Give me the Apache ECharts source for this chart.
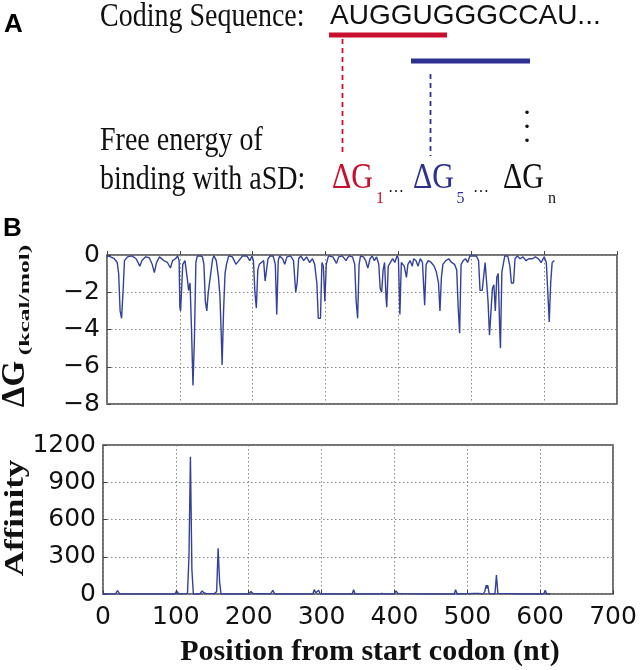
<!DOCTYPE html>
<html>
<head>
<meta charset="utf-8">
<script src="https://cdn.jsdelivr.net/npm/echarts@6/dist/echarts.min.js"></script>
<style>
  html, body { margin: 0; padding: 0; background: #fff; }
  #main { width: 641px; height: 670px; }
</style>
</head>
<body>
<div id="main"></div>
<script>
// free energy of binding with aSD (top)
var dgPos = [0, 5, 10, 14, 16, 18, 20, 22, 24, 28, 34, 40, 45, 48, 53, 58, 62, 65, 68, 72,
  78, 83, 87, 90, 94, 97, 99, 100, 101, 103, 104, 107, 110, 112, 114, 116, 118, 120, 122, 124,
  128, 131, 133, 135, 137, 139, 141, 143, 145, 147, 150, 153, 155, 157, 158, 160, 162, 164, 167, 172,
  177, 181, 186, 192, 196, 199, 201, 203, 205, 207, 209, 212, 215, 217, 219, 221, 224, 228, 231, 233,
  235, 237, 241, 244, 247, 252, 256, 259, 261, 263, 266, 270, 274, 278, 282, 285, 288, 290, 293, 295,
  297, 299, 301, 304, 310, 315, 318, 323, 328, 332, 337, 340, 342, 344, 346, 348, 352, 355, 358, 361,
  364, 367, 370, 373, 375, 377, 379, 381, 383, 384, 386, 389, 392, 395, 398, 400, 402, 404, 406, 408,
  411, 413, 416, 419, 421, 424, 427, 430, 433, 436, 438, 441, 445, 449, 452, 455, 457, 459, 461, 465,
  469, 473, 477, 480, 482, 484, 486, 489, 492, 495, 498, 502, 507, 510, 512, 515, 517, 519, 521, 523,
  525, 527, 529, 531, 533, 535, 537, 539, 540, 542, 544, 546, 548, 550, 553, 555, 558, 560, 563, 567,
  571, 575, 579, 584, 588, 592, 596, 598, 600, 603, 605, 607, 609, 611, 614];
var dgVal = [-0.05, -0.1, -0.2, -0.4, -1.0, -3.0, -3.4, -2.0, -0.3, -0.1, -0.05, -0.2, -0.6, -0.3, -0.1, -0.15, -0.5, -0.95, -0.4, -0.1,
  -0.3, -0.4, -0.7, -0.3, -0.2, -0.05, -0.3, -2.8, -3.0, -2.9, -0.5, -0.3, -1.2, -1.9, -1.5, -4.0, -7.0, -4.5, -0.4, -0.05,
  -0.05, -0.1, -0.5, -2.5, -3.0, -2.0, -1.4, -1.3, -0.2, -0.05, -0.3, -1.2, -2.2, -4.5, -5.9, -3.0, -1.0, -0.5, -0.05, -0.1,
  -0.5, -0.3, -0.05, -0.05, -0.3, -0.05, -0.3, -2.0, -2.85, -0.8, -0.5, -0.4, -0.3, -1.4, -1.4, -0.2, -0.05, -0.05, -0.5, -3.2,
  -0.3, -0.05, -0.2, -0.5, -0.1, -0.05, -0.3, -2.0, -1.5, -0.2, -0.05, -0.3, -0.1, -0.4, -0.2, -0.5, -1.5, -3.4, -3.4, -0.4,
  -0.6, -2.5, -0.5, -0.05, -0.1, -0.45, -0.1, -0.05, -0.3, -0.05, -0.1, -0.5, -2.5, -3.4, -0.5, -0.05, -0.1, -0.3, -0.7, -0.2,
  -0.05, -0.3, -0.1, -0.5, -1.8, -2.0, -0.8, -0.4, -2.3, -2.8, -0.6, -0.4, -0.2, -0.4, -0.05, -0.2, -3.2, -0.4, -0.3, -0.6,
  -1.2, -0.5, -0.3, -0.6, -0.2, -0.3, -0.6, -0.2, -0.4, -2.7, -0.5, -0.3, -0.4, -0.6, -0.9, -1.5, -3.0, -1.2, -0.5, -0.3,
  -0.2, -0.4, -0.5, -0.8, -2.8, -4.2, -0.5, -0.3, -0.2, -0.4, -0.05, -0.05, -0.05, -0.3, -1.9, -1.9, -1.9, -0.4, -0.5, -2.5,
  -4.3, -4.2, -1.8, -1.6, -3.0, -1.2, -1.0, -4.0, -5.0, -0.9, -0.8, -0.05, -0.05, -0.05, -0.6, -1.5, -1.5, -0.2, -0.05, -0.2,
  -0.1, -0.3, -0.2, -0.2, -0.1, -0.2, -0.4, -0.45, -0.1, -0.4, -2.0, -3.6, -1.5, -0.4, -0.3];

// affinity (bottom)
var affPos = [0, 17, 20, 23, 99, 101, 104, 112, 116, 118, 120, 122, 124, 133, 136, 139, 142, 153, 156, 158,
  160, 162, 200, 203, 206, 215, 230, 233, 236, 258, 260, 262, 288, 290, 292, 294, 296, 298, 342, 344,
  346, 380, 383, 386, 400, 402, 405, 410, 435, 436, 438, 456, 458, 460, 482, 484, 486, 510, 516, 522,
  524, 526, 527, 528, 530, 538, 540, 542, 550, 560, 570, 605, 607, 609, 614];
var affVal = [0, 0, 28, 0, 0, 25, 0, 3, 5, 300, 1105, 200, 0, 0, 25, 8, 5, 3, 20, 368,
  100, 0, 0, 20, 3, 2, 0, 30, 0, 0, 5, 0, 0, 35, 10, 0, 30, 0, 0, 35,
  0, 0, 5, 0, 0, 25, 5, 3, 0, 12, 0, 0, 15, 0, 0, 35, 0, 5, 5, 0,
  20, 72, 45, 72, 5, 0, 153, 5, 3, 3, 0, 0, 30, 0, 0];

var xTicks = [0, 100, 200, 300, 400, 500, 600, 700];
var dgTicks = [0, -2, -4, -6, -8];
var affTicks = [0, 300, 600, 900, 1200];

var lineColor = '#33419a';
var red = '#c8102e';
var blue = '#2e3192';

var chart = echarts.init(document.getElementById('main'), null, {renderer: 'canvas'});

function minus(v) {
  return v < 0 ? '\u2212' + Math.abs(v) : String(v);
}

function txt(x, y, text, font, fill, extra) {
  var el = {
    type: 'text',
    x: x,
    y: y,
    style: {
      text: text,
      font: font,
      fill: fill || '#111',
      textAlign: 'left',
      align: 'left',
      textVerticalAlign: 'middle',
      verticalAlign: 'middle'
    }
  };
  if (extra) {
    for (var k in extra) {
      if (k === 'align') {
        el.style.textAlign = extra[k];
        el.style.align = extra[k];
      } else if (k === 'valign') {
        el.style.textVerticalAlign = extra[k];
        el.style.verticalAlign = extra[k];
      } else {
        el[k] = extra[k];
      }
    }
  }
  return el;
}

function seg(x1, y1, x2, y2, color, width, dash) {
  return {
    type: 'line',
    shape: {x1: x1, y1: y1, x2: x2, y2: y2},
    style: {stroke: color, lineWidth: width, lineDash: dash || null}
  };
}

var serif = '"Liberation Serif", "Times New Roman", serif';
var sans = '"Liberation Sans", Arial, sans-serif';

var gridStyle = {show: true, lineStyle: {color: '#888', width: 1, type: [1.5, 2.5]}};
var tickLabel = {
  fontFamily: '"DejaVu Sans", sans-serif',
  fontSize: 25,
  color: '#111'
};

var option = {
  animation: false,
  backgroundColor: '#fff',
  grid: [
    {left: 107, top: 255, width: 510, height: 149, show: true, borderColor: '#444', borderWidth: 1.5, backgroundColor: 'transparent'},
    {left: 103, top: 445, width: 510, height: 149, show: true, borderColor: '#444', borderWidth: 1.5, backgroundColor: 'transparent'}
  ],
  xAxis: [
    {
      type: 'value', gridIndex: 0, min: 0, max: 700, interval: 100,
      axisLine: {show: false},
      axisTick: {show: true, inside: true, length: 4, lineStyle: {color: '#444'}},
      axisLabel: {show: false},
      splitLine: gridStyle
    },
    {
      type: 'value', gridIndex: 1, min: 0, max: 700, interval: 100,
      axisLine: {show: false},
      axisTick: {show: true, inside: true, length: 4, lineStyle: {color: '#444'}},
      axisLabel: Object.assign({margin: 11, formatter: function (v) { return String(v); }}, tickLabel),
      splitLine: gridStyle
    }
  ],
  yAxis: [
    {
      type: 'value', gridIndex: 0, min: -8, max: 0, interval: 2,
      axisLine: {show: false},
      axisTick: {show: true, inside: true, length: 4, lineStyle: {color: '#444'}},
      axisLabel: Object.assign({margin: 7, formatter: minus}, tickLabel),
      splitLine: gridStyle
    },
    {
      type: 'value', gridIndex: 1, min: 0, max: 1200, interval: 300,
      axisLine: {show: false},
      axisTick: {show: true, inside: true, length: 4, lineStyle: {color: '#444'}},
      axisLabel: Object.assign({margin: 7, formatter: function (v) { return String(v); }}, tickLabel),
      splitLine: gridStyle
    }
  ],
  series: [
    {
      name: 'dG',
      type: 'line',
      xAxisIndex: 0, yAxisIndex: 0,
      showSymbol: false,
      lineStyle: {color: lineColor, width: 1.4},
      data: dgPos.map(function (p, i) { return [p, dgVal[i]]; })
    },
    {
      name: 'Affinity',
      type: 'line',
      xAxisIndex: 1, yAxisIndex: 1,
      showSymbol: false,
      lineStyle: {color: lineColor, width: 1.4},
      data: affPos.map(function (p, i) { return [p, affVal[i]]; })
    }
  ],
  graphic: [
    // panel A
    txt(4, 24.5, 'A', 'bold 26px ' + sans, '#000'),
    txt(100, 17, 'Coding Sequence:', '28px ' + serif, '#111', {scaleY: 1.2}),
    txt(330, 16.5, 'AUGGUGGGCCAU...', '28px ' + sans, '#111'),
    seg(329, 35, 447, 35, red, 5),
    seg(411, 61, 530, 61, blue, 5),
    seg(342.5, 39, 342.5, 156, red, 1.8, [5, 4]),
    seg(430.5, 74, 430.5, 156, blue, 1.8, [5, 4]),
    txt(527, 119, '.', 'bold 22px ' + serif, '#111', {align: 'center', valign: 'bottom'}),
    txt(527, 133, '.', 'bold 22px ' + serif, '#111', {align: 'center', valign: 'bottom'}),
    txt(527, 147, '.', 'bold 22px ' + serif, '#111', {align: 'center', valign: 'bottom'}),
    txt(100, 141, 'Free energy of', '28px ' + serif, '#111', {scaleY: 1.2}),
    txt(100, 180, 'binding with aSD:', '28px ' + serif, '#111', {scaleY: 1.2}),
    txt(332, 179, '\u0394G', '30px ' + serif, red, {scaleY: 1.2}),
    txt(376, 199, '1', '16px ' + serif, red),
    txt(388, 188, '\u2026', '16px ' + serif, '#111'),
    txt(413, 179, '\u0394G', '30px ' + serif, blue, {scaleY: 1.2}),
    txt(456.5, 199, '5', '16px ' + serif, blue),
    txt(473, 188, '\u2026', '16px ' + serif, '#111'),
    txt(503, 179, '\u0394G', '30px ' + serif, '#111', {scaleY: 1.2}),
    txt(548, 199, 'n', '16px ' + serif, '#111'),
    // panel B labels
    txt(3, 229, 'B', 'bold 26px ' + sans, '#000'),
    txt(32, 384, '\u0394G', 'bold 33px ' + serif, '#111', {rotation: Math.PI / 2, align: 'center', valign: 'bottom'}),
    txt(33, 300, '(kcal/mol)', 'bold 15px ' + serif, '#111', {rotation: Math.PI / 2, align: 'center', valign: 'bottom', scaleX: 1.7}),
    txt(30, 518, 'Affinity', 'bold 28px ' + serif, '#111', {rotation: Math.PI / 2, align: 'center', valign: 'bottom', scaleX: 1.25}),
    txt(370, 652, 'Position from start codon (nt)', 'bold 30px ' + serif, '#111', {align: 'center'})
  ]
};

chart.setOption(option);
</script>
</body>
</html>
